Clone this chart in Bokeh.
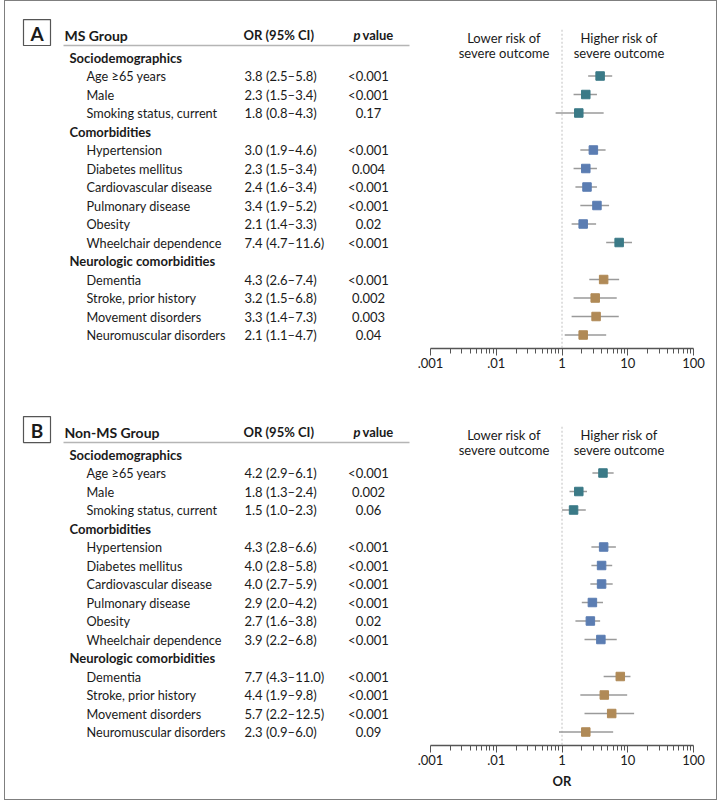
from bokeh.plotting import figure
from bokeh.models import Range1d, FixedTicker
from bokeh.layouts import row, column
from bokeh.core.properties import value
from bokeh.embed import file_html
from bokeh.resources import INLINE

# ---------------- data ----------------
variables = ["Age ≥65 years", "Male", "Smoking status, current",
             "Hypertension", "Diabetes mellitus", "Cardiovascular disease",
             "Pulmonary disease", "Obesity", "Wheelchair dependence",
             "Dementia", "Stroke, prior history", "Movement disorders",
             "Neuromuscular disorders"]
groups = ["Sociodemographics"] * 3 + ["Comorbidities"] * 6 + ["Neurologic comorbidities"] * 4

ms_or = [3.8, 2.3, 1.8, 3.0, 2.3, 2.4, 3.4, 2.1, 7.4, 4.3, 3.2, 3.3, 2.1]
ms_lo = [2.5, 1.5, 0.8, 1.9, 1.5, 1.6, 1.9, 1.4, 4.7, 2.6, 1.5, 1.4, 1.1]
ms_hi = [5.8, 3.4, 4.3, 4.6, 3.4, 3.4, 5.2, 3.3, 11.6, 7.4, 6.8, 7.3, 4.7]
ms_p = ["<0.001", "<0.001", "0.17", "<0.001", "0.004", "<0.001", "<0.001",
        "0.02", "<0.001", "<0.001", "0.002", "0.003", "0.04"]

non_or = [4.2, 1.8, 1.5, 4.3, 4.0, 4.0, 2.9, 2.7, 3.9, 7.7, 4.4, 5.7, 2.3]
non_lo = [2.9, 1.3, 1.0, 2.8, 2.8, 2.7, 2.0, 1.6, 2.2, 4.3, 1.9, 2.2, 0.9]
non_hi = [6.1, 2.4, 2.3, 6.6, 5.8, 5.9, 4.2, 3.8, 6.8, 11.0, 9.8, 12.5, 6.0]
non_p = ["<0.001", "0.002", "0.06", "<0.001", "<0.001", "<0.001", "<0.001",
         "0.02", "<0.001", "<0.001", "<0.001", "<0.001", "0.09"]

tick_values = [0.01, 0.1, 1, 10, 100]
tick_labels = [".001", ".01", "1", "10", "100"]

# ---------------- styles ----------------
FONT = value("Lato")
TXT = "#1a1a1a"
group_colors = {"Sociodemographics": "#3b7a87",
                "Comorbidities": "#5b7db2",
                "Neurologic comorbidities": "#b08a57"}
TABLE_W = 407
FOREST_W = 304
ROW_H = 18.5


def row_positions(grps):
    cat_rows, item_rows = [], []
    r = 0
    prev = None
    for g in grps:
        if g != prev:
            cat_rows.append((g, r))
            r += 1
            prev = g
        item_rows.append(r)
        r += 1
    return cat_rows, item_rows


def build_panel(letter, title, ors, los, his, ps, colors, height, top_px, frame_h, show_xlabel):
    cat_rows, item_rows = row_positions(groups)
    yr = Range1d(start=(frame_h - top_px) / ROW_H, end=-top_px / ROW_H)
    bottom = (frame_h - top_px) / ROW_H

    # ---- table ----
    t = figure(width=TABLE_W, height=height, x_range=Range1d(0, TABLE_W), y_range=yr,
               x_axis_location=None, y_axis_location=None, toolbar_location=None,
               output_backend="svg", min_border_left=0, min_border_right=0,
               min_border_top=0, min_border_bottom=height - frame_h)
    t.outline_line_color = None
    t.grid.visible = False

    t.rect(x=[31.5], y=[-1.35], width=27, height=26, width_units="screen",
           height_units="screen", fill_color="white", line_color="#555555", line_width=1.2)
    t.text(x=[31.5], y=[-1.3], text=[letter], text_font=FONT, text_font_size="19px",
           text_font_style="bold", text_align="center", text_baseline="middle", text_color=TXT)

    t.text(x=[59], y=[-1.19], text=[title], text_font=FONT, text_font_size="14px",
           text_font_style="bold", text_baseline="middle", text_color=TXT)
    t.text(x=[238], y=[-1.19], text=["OR (95% CI)"], text_font=FONT, text_font_size="13px",
           text_font_style="bold", text_baseline="middle", text_color=TXT)
    t.text(x=[348], y=[-1.19], text=["p"], text_font=FONT, text_font_size="13px",
           text_font_style="bold italic", text_baseline="middle", text_color=TXT)
    t.text(x=[357], y=[-1.19], text=["value"], text_font=FONT, text_font_size="13px",
           text_font_style="bold", text_baseline="middle", text_color=TXT)
    t.segment(x0=[58], x1=[404], y0=[-0.65], y1=[-0.65], line_color="#b5b5b5", line_width=1.5)

    t.text(x=[64] * len(cat_rows), y=[r for _, r in cat_rows], text=[g for g, _ in cat_rows],
           text_font=FONT, text_font_size="13px", text_font_style="bold",
           text_baseline="middle", text_color=TXT)
    t.text(x=[81] * len(variables), y=item_rows, text=variables, text_font=FONT,
           text_font_size="12.7px", text_baseline="middle", text_color=TXT)
    or_txt = [f"{o:.1f} ({l:.1f}\u2013{h:.1f})" for o, l, h in zip(ors, los, his)]
    t.text(x=[239] * len(or_txt), y=item_rows, text=or_txt, text_font=FONT,
           text_font_size="13px", text_baseline="middle", text_color=TXT)
    t.text(x=[363] * len(ps), y=item_rows, text=ps, text_font=FONT, text_font_size="13px",
           text_align="center", text_baseline="middle", text_color=TXT)

    # ---- forest ----
    f = figure(width=FOREST_W, height=height, x_axis_type="log", x_range=Range1d(0.01, 100),
               y_range=yr, y_axis_location=None, toolbar_location=None, output_backend="svg",
               min_border_left=18, min_border_right=FOREST_W - 18 - 263, min_border_top=0,
               min_border_bottom=height - frame_h)
    f.outline_line_color = None
    f.grid.visible = False
    f.segment(x0=[1], x1=[1], y0=[-1.5], y1=[bottom], line_color="#c0c0c0",
              line_dash="2 2", line_width=1)
    f.text(x=[1, 1], y=[-1.03, -0.27], text=["Lower risk of", "severe outcome"],
           x_offset=-58, text_font=FONT, text_font_size="13px", text_align="center",
           text_baseline="middle", text_color=TXT)
    f.text(x=[1, 1], y=[-1.03, -0.27], text=["Higher risk of", "severe outcome"],
           x_offset=57, text_font=FONT, text_font_size="13px", text_align="center",
           text_baseline="middle", text_color=TXT)
    f.segment(x0=los, x1=his, y0=item_rows, y1=item_rows, line_color="#9a9a9a", line_width=1.5)
    f.scatter(x=ors, y=item_rows, marker="square", size=8.5, fill_color=colors,
              line_color=colors)

    ax = f.xaxis[0]
    minors = [m * 10 ** k for k in range(-2, 2) for m in range(2, 10)]
    ax.ticker = FixedTicker(ticks=tick_values, minor_ticks=minors)
    ax.major_label_overrides = {v: l for v, l in zip(tick_values, tick_labels)}
    ax.axis_line_color = "#555555"
    ax.axis_line_width = 1.3
    ax.major_tick_line_color = "#555555"
    ax.minor_tick_line_color = "#555555"
    ax.major_tick_in = 0
    ax.major_tick_out = 7
    ax.minor_tick_in = 0
    ax.minor_tick_out = 5
    ax.major_label_standoff = 2
    ax.major_label_text_font = "Lato"
    ax.major_label_text_font_size = "13px"
    ax.major_label_text_color = TXT
    if show_xlabel:
        ax.axis_label = "OR"
        ax.axis_label_text_font = "Lato"
        ax.axis_label_text_font_size = "13px"
        ax.axis_label_text_font_style = "bold"
        ax.axis_label_text_color = TXT
        ax.axis_label_standoff = 5
    return row(t, f)


ms_colors = [group_colors[g] for g in groups]
ms_colors[variables.index("Wheelchair dependence")] = group_colors["Sociodemographics"]
non_colors = [group_colors[g] for g in groups]

panel_a = build_panel("A", "MS Group", ms_or, ms_lo, ms_hi, ms_p, ms_colors,
                      396, 56, 347, False)
panel_b = build_panel("B", "Non-MS Group", non_or, non_lo, non_hi, non_p, non_colors,
                      402, 57, 348, True)

layout = column(panel_a, panel_b,
                styles={"border": "1px solid #7f7f7f", "margin-left": "4px"})

open("out.html", "w").write(file_html(layout, INLINE))
